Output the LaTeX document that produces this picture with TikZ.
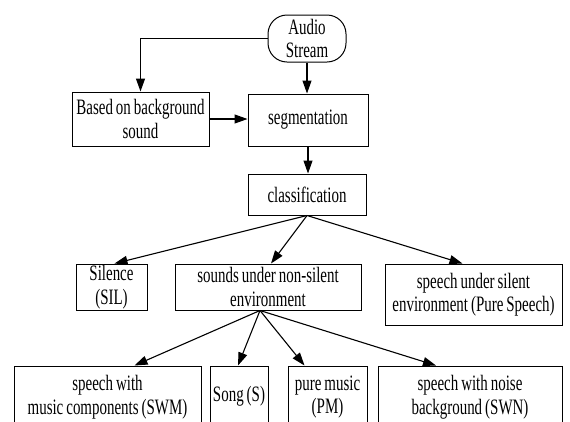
\documentclass[tikz,border=0pt]{standalone}
\usepackage{fontspec}
\setmainfont[FakeStretch=0.68,WordSpace=0.8]{Liberation Serif}
\usetikzlibrary{arrows.meta,calc}
\tikzset{
  box/.style={draw,line width=1pt,inner sep=0pt,align=center,font=\fontsize{22}{23.5}\selectfont},
  arr/.style={line width=1.1pt,-{Triangle[length=13pt,width=9pt]}}
}
\begin{document}
\begin{tikzpicture}[x=1pt,y=-1pt]
\clip (0,0) rectangle (570,421);
\fill[white] (0,0) rectangle (570,421);
\node[box,rounded corners=19pt,minimum width=78pt,minimum height=47pt] (audio) at (307,38.5) {Audio\\Stream};
\node[box,minimum width=137pt,minimum height=54pt] (based) at (140.5,119) {Based on background\\sound};
\node[box,minimum width=120pt,minimum height=52pt] (seg) at (308,120) {segmentation};
\node[box,minimum width=118pt,minimum height=41pt] (class) at (307,194.5) {classification};
\node[box,minimum width=71pt,minimum height=46pt] (sil) at (111.5,287) {Silence\\(SIL)};
\node[box,minimum width=186pt,minimum height=46pt] (sounds) at (268,287) {sounds under non-silent\\environment};
\node[box,minimum width=177pt,minimum height=61pt] (pure) at (473.5,294.5) {speech under silent\\environment (Pure Speech)};
\node[box,minimum width=187pt,minimum height=62pt] (swm) at (107.5,397) {speech with\\music components (SWM)};
\node[box,minimum width=58pt,minimum height=62pt] (song) at (239,397) {\raisebox{7pt}{Song (S)}};
\node[box,minimum width=79pt,minimum height=62pt] (pm) at (327.5,397) {pure music\\(PM)};
\node[box,minimum width=184pt,minimum height=62pt] (swn) at (470,397) {speech with noise\\background (SWN)};
\coordinate (sb) at ($(sounds.south)+(-8,0)$);
\draw[arr] (audio.west) -| (based.north);
\draw[arr] (audio.south) -- (audio.south |- seg.north);
\draw[arr] (based.east) -- (based.east -| seg.west);
\draw[arr] (seg.south) -- (seg.south |- class.north);
\draw[arr] (class.south) -- ($(sil.north)+(3,0)$);
\draw[arr] (class.south) -- ($(sounds.north)+(3,0)$);
\draw[arr] (class.south) -- ($(pure.north)+(-11,0)$);
\draw[arr] (sb) -- ($(swm.north)+(27,0)$);
\draw[arr] (sb) -- ($(song.north)+(-1,0)$);
\draw[arr] (sb) -- ($(pm.north)+(-23,0)$);
\draw[arr] (sb) -- ($(swn.north)+(-34,0)$);
\end{tikzpicture}
\end{document}
